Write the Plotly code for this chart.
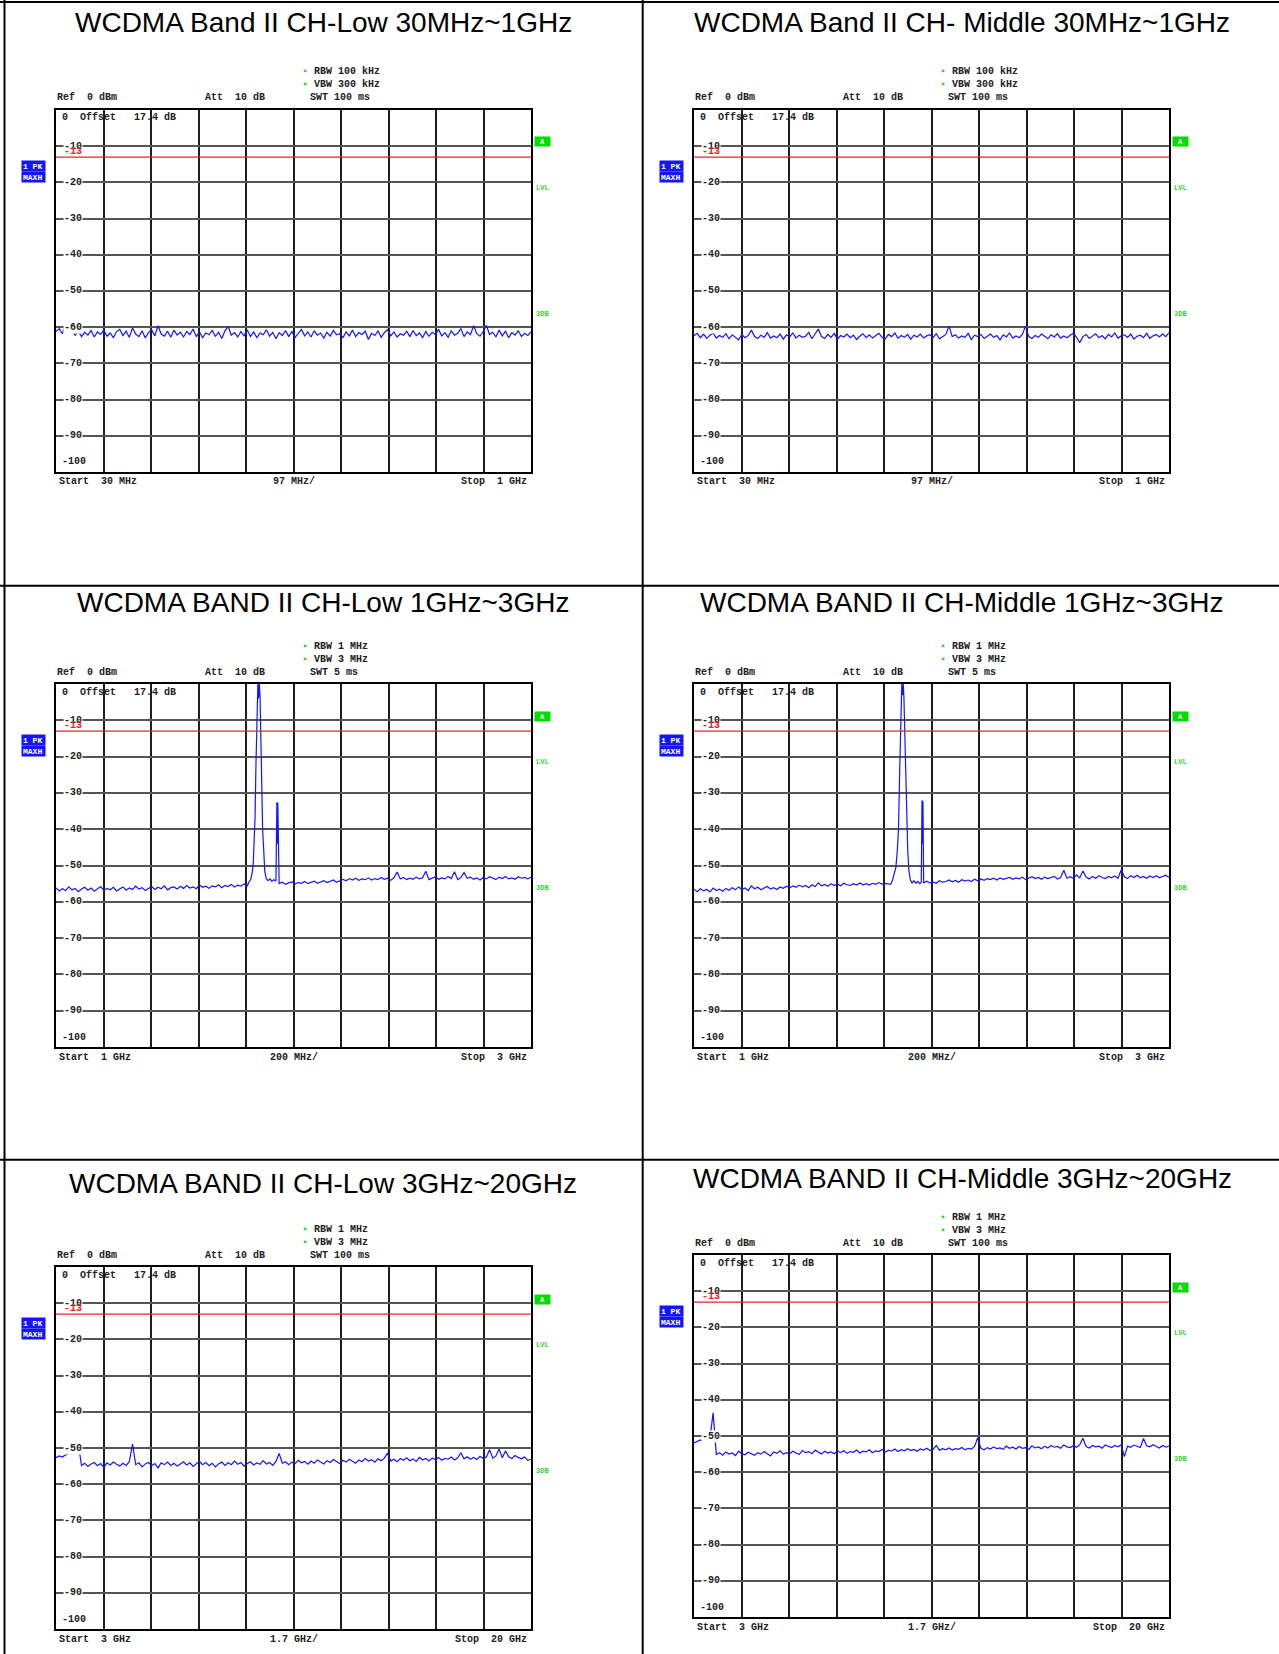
import numpy as np
import plotly.graph_objects as go

W, H = 1279, 1654

titles = [
    "WCDMA Band II CH-Low 30MHz~1GHz",
    "WCDMA Band II CH- Middle 30MHz~1GHz",
    "WCDMA BAND II CH-Low 1GHz~3GHz",
    "WCDMA BAND II CH-Middle 1GHz~3GHz",
    "WCDMA BAND II CH-Low 3GHz~20GHz",
    "WCDMA BAND II CH-Middle 3GHz~20GHz",
]
start_freq = [30, 30, 1, 1, 3, 3]          # MHz for top row, GHz below
stop_freq = [1000, 1000, 3, 3, 20, 20]
start_text = ["Start  30 MHz", "Start  30 MHz", "Start  1 GHz", "Start  1 GHz", "Start  3 GHz", "Start  3 GHz"]
span_text = ["97 MHz/", "97 MHz/", "200 MHz/", "200 MHz/", "1.7 GHz/", "1.7 GHz/"]
stop_text = ["Stop  1 GHz", "Stop  1 GHz", "Stop  3 GHz", "Stop  3 GHz", "Stop  20 GHz", "Stop  20 GHz"]
rbw = ["100 kHz", "100 kHz", "1 MHz", "1 MHz", "1 MHz", "1 MHz"]
vbw = ["300 kHz", "300 kHz", "3 MHz", "3 MHz", "3 MHz", "3 MHz"]
swt = ["100 ms", "100 ms", "5 ms", "5 ms", "100 ms", "100 ms"]
y_ticks = [-10, -20, -30, -40, -50, -60, -70, -80, -90]
limit_db = -13

# trace levels (dBm), equally spaced over the sweep
low_30m_1g = [
    -61.2, -60.4, -61.8, -59.4, -61.5, -60.3, -62.3, -61.0, -62.6, -61.4,
    -62.2, -60.9, -62.7, -61.3, -62.0, -60.8, -62.5, -61.6, -62.9, -61.2,
    -60.6, -62.3, -61.1, -62.8, -60.2, -61.9, -62.6, -61.0, -63.0, -61.5,
    -60.7, -62.4, -59.6, -61.9, -62.5, -61.1, -62.8, -60.8, -62.2, -61.4,
    -62.7, -61.2, -62.0, -60.5, -62.6, -61.3, -62.9, -61.6, -62.1, -60.9,
    -62.5, -61.4, -63.1, -61.0, -59.8, -62.2, -61.5, -62.7, -61.2, -62.4,
    -60.8, -62.6, -61.3, -62.9, -61.6, -62.1, -60.7, -62.5, -61.4, -63.2,
    -61.5, -62.3, -60.9, -62.6, -61.2, -62.8, -61.7, -60.6, -62.4, -61.3,
    -62.7, -61.0, -62.2, -61.6, -63.0, -61.4, -62.5, -60.9, -62.1, -61.8,
    -62.9, -61.3, -62.4, -60.8, -62.6, -61.5, -62.0, -61.1, -63.4, -61.7,
    -62.3, -61.0, -62.8, -61.5, -60.7, -62.4, -61.3, -62.7, -61.8, -62.2,
    -61.1, -62.6, -60.9, -62.3, -61.6, -62.9, -61.2, -62.5, -61.4, -62.0,
    -60.6, -62.4, -61.5, -62.8, -61.0, -62.2, -61.7, -60.4, -62.6, -61.3,
    -62.1, -59.6, -61.8, -62.5, -61.2, -59.5, -62.0, -61.4, -62.7, -60.8,
    -62.4, -61.1, -62.9, -61.5, -62.2, -61.0, -62.6, -61.7, -62.3, -61.2,
]
mid_30m_1g = [
    -62.4, -61.7, -62.9, -61.9, -63.1, -62.2, -61.6, -63.0, -62.3, -62.8,
    -61.8, -63.2, -62.1, -62.7, -63.5, -62.0, -62.9, -62.3, -60.8, -62.6,
    -63.1, -62.2, -62.8, -61.5, -63.0, -62.4, -62.9, -61.9, -63.3, -62.1,
    -62.7, -61.6, -63.0, -62.2, -62.8, -62.5, -61.4, -63.2, -62.0, -60.5,
    -62.6, -63.1, -62.0, -62.8, -61.7, -63.3, -62.3, -62.7, -61.9, -62.9,
    -62.2, -63.4, -62.5, -61.8, -62.9, -62.1, -63.0, -62.4, -61.7, -62.8,
    -63.2, -62.0, -62.6, -61.6, -63.1, -62.3, -62.8, -62.0, -63.3, -62.2,
    -62.7, -61.9, -63.0, -62.4, -62.1, -62.9, -61.8, -63.2, -62.5, -62.0,
    -59.7, -62.6, -62.1, -63.0, -62.4, -62.8, -61.7, -63.4, -62.2, -62.6,
    -62.0, -63.1, -62.5, -61.9, -62.8, -62.3, -63.5, -62.1, -62.7, -61.6,
    -63.0, -62.4, -62.9, -62.0, -59.7, -62.6, -63.1, -62.3, -62.8, -61.9,
    -62.5, -63.2, -62.1, -62.7, -61.8, -63.0, -62.4, -62.9, -62.2, -61.7,
    -62.8, -64.3, -62.6, -62.0, -63.1, -62.4, -61.8, -62.9, -62.3, -63.2,
    -62.0, -62.7, -61.6, -63.0, -62.4, -62.1, -62.8, -61.9, -63.3, -62.5,
    -62.2, -62.9, -61.7, -63.1, -62.4, -62.0, -62.7, -61.8, -62.6, -61.5,
]
low_1g_3g = [
    -56.2, -57.0, -56.4, -56.9, -55.9, -56.7, -56.3, -57.2, -56.5, -56.0,
    -56.8, -56.2, -57.1, -56.4, -55.8, -56.9, -56.3, -56.7, -56.0, -57.0,
    -56.4, -55.9, -56.8, -56.2, -56.6, -55.7, -56.5, -56.1, -56.9, -56.3,
    -55.8, -56.6, -56.0, -56.4, -55.6, -56.7, -56.1, -55.9, -56.5, -55.7,
    -56.3, -55.5, -56.2, -55.9, -56.4, -55.4, -56.0, -55.7, -56.3, -55.6,
    -55.9, -55.3, -56.1, -55.5, -55.8, -55.2, -55.9, -55.4, -55.7, -55.1,
    -55.6, -55.2, -55.4, -55.0, -55.3, -54.9, -55.2, -54.8, -55.1, -54.7,
    -55.0, -54.6, -55.2, -54.8, -54.5, -55.1, -54.7, -54.9, -54.4, -55.0,
    -54.6, -54.3, -54.9, -54.5, -54.2, -54.7, -54.4, -54.0, -54.6, -54.3,
    -53.8, -54.2, -53.6, -54.0, -53.5, -54.1, -53.7, -53.9, -53.4, -54.0,
    -53.6, -53.9, -53.3, -53.8, -53.5, -54.1, -53.4, -51.8, -53.7, -53.3,
    -53.9, -53.5, -53.8, -53.2, -53.7, -53.4, -51.6, -53.9, -53.5, -53.1,
    -53.8, -53.4, -53.7, -53.0, -53.6, -51.7, -53.9, -53.3, -51.9, -53.5,
    -53.2, -53.8, -53.4, -54.0, -53.3, -53.7, -53.1, -53.6, -53.9, -53.2,
    -53.6, -53.0, -53.7, -53.4, -53.8, -53.1, -53.5, -53.3, -53.7, -53.2,
]
low_peak_ghz = [1.812, 1.820, 1.826, 1.831, 1.835, 1.838, 1.842, 1.846, 1.850, 1.853,
                1.856, 1.859, 1.862, 1.866, 1.870, 1.874, 1.879, 1.885, 1.893, 1.901,
                1.909, 1.917, 1.926, 1.930, 1.932, 1.934, 1.937]
low_peak_db = [-54.6, -53.8, -52.0, -49.0, -42.0, -37.0, -22.0, -8.0, 0.0, -4.0,
               0.0, -3.0, -13.0, -30.0, -40.0, -45.0, -51.5, -53.6, -54.2, -53.7,
               -54.4, -53.9, -54.3, -32.5, -44.0, -32.8, -54.6]
mid_1g_3g = [
    -56.5, -57.2, -56.4, -57.0, -56.6, -57.3, -56.2, -56.9, -56.5, -57.1,
    -56.3, -56.8, -56.1, -56.7, -55.9, -56.6, -56.2, -56.9, -55.6, -56.4,
    -56.0, -56.7, -56.2, -55.8, -56.5, -56.1, -56.6, -55.9, -56.3, -55.7,
    -56.2, -55.6, -56.0, -55.4, -55.9, -55.5, -56.1, -55.3, -55.8, -54.8,
    -55.6, -55.2, -55.7, -55.0, -55.5, -55.1, -55.6, -54.9, -55.3, -55.5,
    -55.0, -55.4, -54.8, -55.3, -55.0, -55.4, -54.9, -55.2, -54.7, -55.1,
    -54.9, -55.2, -54.8, -55.0, -54.7, -55.1, -54.8, -54.9, -54.6, -55.0,
    -54.7, -54.9, -54.6, -54.3, -54.8, -54.5, -54.9, -54.2, -54.6, -54.4,
    -54.0, -54.5, -54.1, -54.6, -53.9, -54.3, -54.0, -54.4, -53.8, -54.2,
    -53.7, -54.1, -53.6, -53.9, -53.5, -54.0, -53.4, -53.8, -53.6, -53.3,
    -53.8, -53.4, -53.7, -53.2, -53.9, -53.5, -53.1, -53.6, -53.3, -53.8,
    -53.2, -53.6, -53.4, -53.0, -53.7, -53.3, -51.3, -53.5, -53.1, -53.6,
    -52.6, -53.4, -51.5, -53.2, -53.7, -53.0, -53.5, -52.8, -53.3, -53.6,
    -53.0, -53.4, -52.9, -53.5, -51.2, -53.1, -53.6, -52.8, -53.3, -52.7,
    -53.4, -53.0, -53.5, -52.9, -53.3, -52.8, -53.4, -53.1, -52.7, -53.3,
]
mid_peak_ghz = [1.828, 1.836, 1.843, 1.850, 1.856, 1.861, 1.866, 1.871, 1.875, 1.878,
                1.881, 1.884, 1.888, 1.892, 1.896, 1.900, 1.905, 1.911, 1.918, 1.926,
                1.934, 1.942, 1.950, 1.957, 1.960, 1.962, 1.964, 1.967]
mid_peak_db = [-55.2, -54.0, -52.5, -50.5, -46.0, -40.0, -24.0, -8.0, 0.0, -3.0,
               0.0, -4.0, -14.0, -31.0, -41.0, -46.0, -51.5, -54.0, -54.8, -54.2,
               -54.9, -54.4, -55.0, -54.6, -32.0, -44.0, -32.3, -54.8]
low_3g_20g = [
    -52.7, -52.2, -52.5, -51.9, -51.6, -51.2, -50.7, -48.9, -54.8, -54.2,
    -55.1, -54.4, -54.0, -54.9, -54.3, -55.3, -54.1, -54.7, -53.9, -54.5,
    -55.0, -54.2, -54.8, -53.8, -48.9, -54.6, -54.1, -55.2, -54.4, -54.0,
    -54.9, -54.3, -55.5, -54.1, -54.6, -53.9, -54.8, -54.2, -55.0, -54.4,
    -53.8, -54.7, -54.1, -55.1, -54.3, -53.7, -54.6, -54.0, -54.9, -54.2,
    -55.2, -54.4, -53.9, -54.8, -54.1, -54.6, -53.6, -54.5, -54.0, -55.0,
    -54.3, -53.8, -54.7, -54.1, -54.5, -53.5, -54.4, -54.0, -54.8, -53.7,
    -51.5, -54.2, -53.8, -54.6, -53.9, -54.3, -53.4, -54.1, -53.7, -54.5,
    -53.6, -54.2, -53.3, -53.9, -54.4, -53.5, -54.0, -53.2, -53.8, -54.3,
    -53.4, -53.9, -53.1, -53.7, -54.2, -53.3, -53.8, -52.9, -53.6, -53.2,
    -53.9, -53.0, -53.5, -52.8, -51.4, -53.6, -53.1, -53.8, -52.9, -53.4,
    -52.7, -53.5, -53.0, -53.7, -52.6, -53.3, -52.9, -53.6, -52.8, -53.2,
    -52.6, -53.4, -52.9, -53.1, -52.5, -53.3, -52.7, -51.3, -53.0, -52.4,
    -53.1, -52.6, -53.2, -52.3, -52.9, -52.5, -50.5, -52.8, -52.2, -50.3,
    -52.7, -50.8, -52.4, -52.9, -52.1, -52.6, -53.0, -52.5, -53.4, -53.1,
]
mid_3g_20g = [
    -51.9, -51.4, -51.1, -51.5, -50.8, -50.6, -43.6, -55.1, -54.6, -55.3,
    -54.4, -55.0, -54.7, -55.4, -54.2, -54.9, -55.2, -54.5, -54.8, -55.3,
    -54.6, -55.0, -54.3, -54.9, -55.5, -54.4, -54.8, -54.1, -55.0, -54.6,
    -54.9, -54.2, -54.7, -55.1, -54.0, -54.6, -54.3, -54.9, -53.9, -54.5,
    -55.0, -54.2, -54.7, -54.4, -54.9, -54.1, -54.6, -54.0, -54.8, -54.3,
    -54.5, -53.9, -54.7, -54.2, -54.4, -53.8, -54.6, -54.1, -54.3, -53.7,
    -54.4, -53.9, -54.2, -53.6, -54.3, -53.8, -54.1, -53.5, -54.0, -53.7,
    -54.2, -53.6, -53.9, -53.4, -54.0, -53.7, -52.6, -53.9, -53.5, -53.8,
    -53.3, -53.9, -53.5, -53.7, -53.2, -53.8, -53.4, -53.6, -52.9, -50.5,
    -53.4, -53.8, -53.2, -53.6, -53.0, -53.5, -53.3, -53.7, -52.8, -53.4,
    -53.1, -53.6, -52.9, -53.4, -53.2, -53.7, -52.7, -53.3, -53.0, -53.5,
    -52.8, -53.3, -52.6, -53.1, -52.9, -53.4, -52.5, -53.0, -53.2, -52.7,
    -53.1, -52.4, -50.6, -52.9, -53.3, -52.6, -53.0, -52.8, -53.4, -52.5,
    -52.9, -53.2, -52.6, -53.0, -52.4, -55.7, -52.8, -53.1, -52.5, -52.9,
    -53.2, -50.7, -52.7, -53.0, -52.4, -52.9, -53.3, -52.6, -53.1, -52.8,
]

levels = [low_30m_1g, mid_30m_1g, low_1g_3g, mid_1g_3g, low_3g_20g, mid_3g_20g]
peaks = [None, None, (low_peak_ghz, low_peak_db), (mid_peak_ghz, mid_peak_db), None, None]

# pixel boxes of the six analyzer grids: x0, x1, top, bottom
boxes = [
    (56, 531, 110, 472), (694, 1169, 110, 472),
    (56, 531, 684, 1047), (694, 1169, 684, 1047),
    (56, 531, 1267, 1629), (694, 1169, 1255, 1617),
]
title_pos = [(323, 23), (962, 23), (323, 603), (962, 603), (323, 1183), (962, 1178)]

MONO = "Liberation Mono"
TXT = "#222222"
GREEN = "#2fd52f"
BLUE = "#1414ff"


def sweep(start, stop, lv, pk):
    f = np.linspace(start, stop, len(lv))
    y = np.array(lv, dtype=float)
    if pk is not None:
        pf, pd = np.array(pk[0]), np.array(pk[1])
        keep = (f < pf[0]) | (f > pf[-1])
        f = np.concatenate([f[keep], pf])
        y = np.concatenate([y[keep], pd])
        o = np.argsort(f)
        f, y = f[o], y[o]
    return f, y


fig = go.Figure()
annotations = []
shapes = []
layout_axes = {}

for i in range(6):
    s = "" if i == 0 else str(i + 1)
    x0, x1, top, bot = boxes[i]
    f, y = sweep(start_freq[i], stop_freq[i], levels[i], peaks[i])
    fig.add_trace(go.Scatter(x=f, y=y, mode="lines", line=dict(color=BLUE, width=1.2),
                             xaxis="x" + s, yaxis="y" + s, hoverinfo="skip"))

    layout_axes["xaxis" + s] = dict(
        domain=[x0 / W, x1 / W], anchor="y" + s,
        range=[start_freq[i], stop_freq[i]],
        tick0=start_freq[i], dtick=(stop_freq[i] - start_freq[i]) / 10,
        showgrid=True, gridcolor="#1e1e1e", gridwidth=1.5,
        showticklabels=False, ticks="", zeroline=False,
        showline=True, mirror=True, linecolor="black", linewidth=2,
    )
    layout_axes["yaxis" + s] = dict(
        domain=[1 - bot / H, 1 - top / H], anchor="x" + s,
        range=[-100, 0], tick0=0, dtick=10,
        showgrid=True, gridcolor="#555555", gridwidth=2,
        showticklabels=False, ticks="", zeroline=False,
        showline=True, mirror=True, linecolor="black", linewidth=2,
    )

    xd, yd = "x" + s + " domain", "y" + s + " domain"
    ya = "y" + s

    # red limit line
    shapes.append(dict(type="line", xref=xd, yref=ya, x0=0, x1=1, y0=limit_db, y1=limit_db,
                       line=dict(color="#ee2222", width=1.2)))

    def note(text, x, y, xref=xd, yref=yd, xanchor="left", yshift=0, xshift=0,
             size=10, color=TXT, bold=True, **kw):
        if bold:
            text = "<b>" + text + "</b>"
        annotations.append(dict(text=text, x=x, y=y, xref=xref, yref=yref, showarrow=False,
                                xanchor=xanchor, yanchor="middle", xshift=xshift, yshift=yshift,
                                font=dict(family=MONO, size=size, color=color), **kw))

    dot = f'<span style="color:{GREEN}">▪</span> '
    note(dot + "RBW " + rbw[i], 0, 1, xshift=244, yshift=38)
    note(dot + "VBW " + vbw[i], 0, 1, xshift=244, yshift=25)
    note("Ref  0 dBm", 0, 1, xshift=-1, yshift=12)
    note("Att  10 dB", 0, 1, xshift=147, yshift=12)
    note("SWT " + swt[i], 0, 1, xshift=252, yshift=12)
    note("0  Offset   17.4 dB", 0, 1, xshift=4, yshift=-8)

    for t in y_ticks:
        note(str(t), 0, t, yref=ya, xshift=7, bgcolor="white", borderpad=0)
    note("-100", 0, -100, yref=ya, xshift=4, yshift=10)
    note(str(limit_db), 0, limit_db, yref=ya, xshift=6, yshift=6, color="#ee2222")

    note(start_text[i], 0, 0, xshift=1, yshift=-10)
    note(span_text[i], 0.5, 0, xanchor="center", yshift=-10)
    note(stop_text[i], 1, 0, xanchor="right", xshift=-2, yshift=-10)

    # instrument side markers
    note("1 PK", 0, 1, xanchor="right", xshift=-10, yshift=-56, size=8, color="white",
         bgcolor=BLUE, width=21, height=8, align="left", borderpad=1)
    note("MAXH", 0, 1, xanchor="right", xshift=-10, yshift=-67, size=8, color="white",
         bgcolor=BLUE, width=21, height=8, align="left", borderpad=1)
    note("A", 1, 1, xshift=3, yshift=-32, size=7, color="white",
         bgcolor="#00dd00", width=13, height=7, borderpad=1)
    note("LVL", 1, 1, xshift=3, yshift=-78, size=7, color=GREEN)
    note("3DB", 1, 1, xshift=3, yshift=-204, size=7, color=GREEN)

    tx, ty = title_pos[i]
    annotations.append(dict(text=titles[i], x=tx / W, y=1 - ty / H, xref="paper", yref="paper",
                            showarrow=False, xanchor="center", yanchor="middle",
                            font=dict(family="Liberation Sans", size=28, color="black")))

# table rules
for xs in (4.5, 642.7):
    shapes.append(dict(type="line", xref="paper", yref="paper", x0=xs / W, x1=xs / W, y0=0, y1=1,
                       line=dict(color="black", width=2)))
for ys in (2, 585.7, 1159.8):
    shapes.append(dict(type="line", xref="paper", yref="paper", x0=0, x1=1, y0=1 - ys / H, y1=1 - ys / H,
                       line=dict(color="black", width=2)))

fig.update_layout(
    width=W, height=H, margin=dict(l=0, r=0, t=0, b=0),
    paper_bgcolor="white", plot_bgcolor="white",
    showlegend=False, annotations=annotations, shapes=shapes,
    **layout_axes,
)

fig.write_html("out.html", config={"displayModeBar": False},
               post_script="document.body.style.margin='0';")
